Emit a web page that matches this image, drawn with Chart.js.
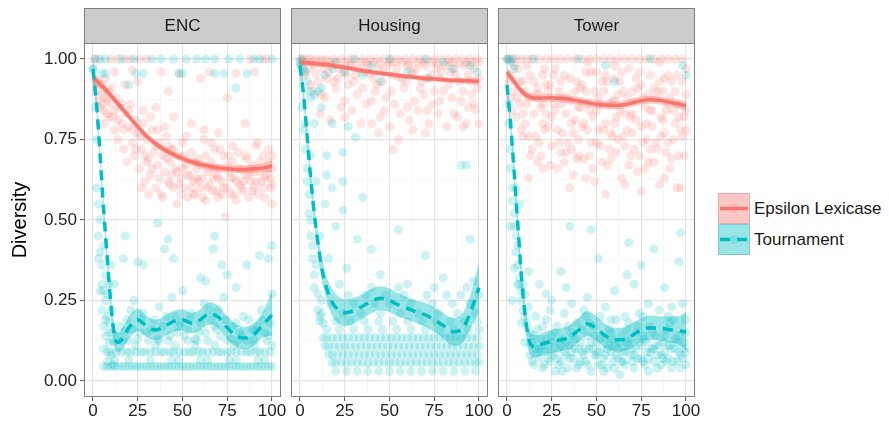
<!DOCTYPE html>
<html>
<head>
<meta charset="utf-8">
<script src="https://cdn.jsdelivr.net/npm/chart.js@4.4.1/dist/chart.umd.min.js"></script>
<style>
  body { margin: 0; background: #fff; width: 889px; height: 422px; overflow: hidden; position: relative;
         font-family: "Liberation Sans", Arial, sans-serif; }
  canvas { position: absolute; top: 0; }
  .key { position: absolute; left: 718px; }
  .lab { position: absolute; left: 754px; font-size: 17px; color: #1a1a1a; line-height: 20px; }
</style>
</head>
<body>
<canvas id="encChart" width="300" height="422" style="left:0px"></canvas>
<canvas id="housingChart" width="223" height="422" style="left:283px"></canvas>
<canvas id="towerChart" width="223" height="422" style="left:490px"></canvas>

<svg class="key" style="top:193px" width="32" height="31">
  <rect x="0.5" y="0.5" width="31" height="30" fill="rgba(248,118,109,0.4)" stroke="rgba(200,120,115,0.5)"/>
  <circle cx="16" cy="15.5" r="4.5" fill="rgba(248,118,109,0.2)"/>
  <line x1="2" x2="30" y1="15.5" y2="15.5" stroke="#F8766D" stroke-width="3.5"/>
</svg>
<svg class="key" style="top:224px" width="32" height="31">
  <rect x="0.5" y="0.5" width="31" height="30" fill="rgba(0,191,196,0.4)" stroke="rgba(60,160,165,0.5)"/>
  <circle cx="16" cy="15.5" r="4.5" fill="rgba(0,191,196,0.2)"/>
  <line x1="2" x2="30" y1="15.5" y2="15.5" stroke="#00BFC4" stroke-width="3.5" stroke-dasharray="10 7"/>
</svg>
<div class="lab" style="top:199px">Epsilon Lexicase</div>
<div class="lab" style="top:230px">Tournament</div>

<script>
// Axis ticks (minor ticks get a grid line but no label)
const xTicks = [0, 12.5, 25, 37.5, 50, 62.5, 75, 87.5, 100];
const xMajor = [0, 25, 50, 75, 100];
const yTicks = [0, 0.125, 0.25, 0.375, 0.5, 0.625, 0.75, 0.875, 1];
const yMajor = [0, 0.25, 0.5, 0.75, 1];

const panels = ['ENC', 'Housing', 'Tower'];
const seriesNames = ['Epsilon Lexicase', 'Tournament'];

// x positions of the smoothed fits
const smoothX = [0, 2, 4, 6, 8, 10, 12, 14, 17, 20, 25, 30, 35, 40, 45, 50, 55, 60, 65, 70, 75, 80, 85, 90, 95, 100];

// ---- ENC ----
const encEpsPts = [[1,1],[3,1],[10,1],[14,1],[18,1],[21,1],[26,1],[30,1],[95,1],[97,1],[88,1],
  [12,0.96],[22,0.965],[38,0.96],[48,0.955],[65,0.96],[80,0.955],[90,0.96],
  [3,0.93],[5,0.92],[7,0.94],[10,0.91],[18,0.92],[25,0.93],[42,0.9],[60,0.94],[75,0.88],
  [1,0.93],[2,0.9],[3,0.87],[4,0.85],[5,0.89],[6,0.84],[7,0.88],[8,0.83],[9,0.9],[10,0.86],
  [11,0.82],[12,0.78],[13,0.88],[14,0.75],[15,0.85],[16,0.8],[17,0.72],[18,0.83],[19,0.68],[20,0.79],
  [21,0.86],[22,0.74],[23,0.7],[24,0.81],[25,0.77],[26,0.66],[27,0.72],[28,0.8],[29,0.62],[30,0.75],
  [31,0.69],[32,0.64],[33,0.78],[34,0.71],[35,0.6],[36,0.67],[37,0.74],[38,0.58],[39,0.7],[40,0.65],
  [41,0.76],[42,0.62],[43,0.68],[44,0.72],[45,0.6],[46,0.66],[47,0.55],[48,0.7],[49,0.63],[50,0.74],
  [51,0.6],[52,0.67],[53,0.57],[54,0.64],[55,0.71],[56,0.62],[57,0.58],[58,0.66],[59,0.69],[60,0.6],
  [61,0.63],[62,0.75],[63,0.56],[64,0.65],[65,0.61],[66,0.68],[67,0.59],[68,0.72],[69,0.64],[70,0.57],
  [71,0.66],[72,0.62],[73,0.7],[74,0.51],[75,0.6],[76,0.65],[77,0.58],[78,0.68],[79,0.63],[80,0.56],
  [81,0.71],[82,0.61],[83,0.66],[84,0.59],[85,0.64],[86,0.69],[87,0.57],[88,0.62],[89,0.67],[90,0.6],
  [91,0.73],[92,0.58],[93,0.65],[94,0.62],[95,0.7],[96,0.57],[97,0.64],[98,0.68],[99,0.6],[100,0.55],
  [55,0.8],[62,0.78],[70,0.77],[85,0.8],[45,0.82],[35,0.85],[28,0.84],[40,0.79],[52,0.76],[66,0.74],
  [78,0.73],[92,0.74],[98,0.72],[30,0.68],[44,0.64],[56,0.58],[64,0.6],[72,0.58],[84,0.62],[96,0.63],
  [48,0.61],[58,0.63],[68,0.66],[88,0.66],[76,0.7],[100,0.66],[100,0.61],[20,0.84],[16,0.86],[8,0.87],[6,0.8],
  [27,0.6],[29,0.7],[31,0.58],[33,0.66],[35,0.73],[37,0.63],[39,0.57],[41,0.69],[43,0.61],[45,0.72],
  [47,0.65],[49,0.58],[51,0.7],[53,0.64],[55,0.6],[57,0.68],[59,0.62],[61,0.57],[63,0.7],[65,0.66],
  [67,0.63],[69,0.59],[71,0.72],[73,0.6],[75,0.67],[77,0.63],[79,0.58],[81,0.66],[83,0.6],[85,0.7],
  [87,0.64],[89,0.59],[91,0.62],[93,0.68],[95,0.6],[97,0.66],[99,0.63],[26,0.76],[32,0.82],[36,0.78],
  [42,0.73],[50,0.66],[60,0.67],[70,0.63],[80,0.62],[90,0.65],[100,0.7],[14,0.81],[17,0.78],[22,0.78],
  [24,0.72],[12,0.84],[9,0.82],[5,0.86]];
const encTourPts = [[0,0.97],[0,0.97],[1,1],[4,1],[7,1],[16,1],[23,1],[33,1],[38,1],[45,1],[52,1],[58,1],
  [63,1],[68,1],[76,1],[82,1],[90,1],[93,1],[100,1],
  [5,0.955],[7,0.955],[24,0.955],[28,0.955],[48,0.955],[50,0.955],[68,0.955],[73,0.955],[86,0.955],[20,0.92],[80,0.91],
  [1,0.85],[2,0.75],[2,0.6],[3,0.55],[3,0.45],[4,0.4],[4,0.5],[5,0.3],[5,0.36],[6,0.28],[6,0.42],[7,0.25],
  [7,0.33],[8,0.2],[8,0.27],[9,0.18],[10,0.22],[10,0.36],[11,0.15],[12,0.3],[12,0.12],[3,0.38],[5,0.22],
  [6,0.1],[7,0.14],[8,0.06],[9,0.12],[10,0.08],[11,0.05],[7,0.19],[9,0.3],[4,0.28],[6,0.17],
  [17,0.38],[18,0.45],[25,0.37],[28,0.36],[36,0.49],[40,0.41],[42,0.44],[45,0.38],[50,0.28],[60,0.32],
  [63,0.31],[67,0.41],[68,0.45],[72,0.36],[75,0.33],[80,0.29],[86,0.36],[93,0.39],[98,0.38],[100,0.42],
  [6,0.045],[10,0.045],[14,0.045],[18,0.045],[22,0.045],[26,0.045],[30,0.045],[34,0.045],[38,0.045],
  [42,0.045],[46,0.045],[50,0.045],[54,0.045],[58,0.045],[62,0.045],[66,0.045],[70,0.045],[74,0.045],
  [78,0.045],[82,0.045],[86,0.045],[90,0.045],[94,0.045],[98,0.045],
  [8,0.045],[12,0.045],[16,0.045],[20,0.045],[24,0.045],[28,0.045],[32,0.045],[36,0.045],[40,0.045],
  [44,0.045],[48,0.045],[52,0.045],[56,0.045],[60,0.045],[64,0.045],[68,0.045],[72,0.045],[76,0.045],
  [80,0.045],[84,0.045],[88,0.045],[92,0.045],[96,0.045],[100,0.045],
  [8,0.09],[13,0.09],[19,0.09],[24,0.09],[29,0.09],[35,0.09],[40,0.09],[45,0.09],[51,0.09],[56,0.09],
  [61,0.09],[67,0.09],[72,0.09],[77,0.09],[83,0.09],[88,0.09],[93,0.09],[99,0.09],
  [10,0.09],[16,0.09],[21,0.09],[27,0.09],[32,0.09],[38,0.09],[43,0.09],[48,0.09],[54,0.09],[59,0.09],
  [64,0.09],[70,0.09],[75,0.09],[80,0.09],[86,0.09],[91,0.09],[96,0.09],
  [12,0.065],[20,0.065],[32,0.065],[44,0.065],[48,0.065],[60,0.065],[64,0.065],[76,0.065],[80,0.065],[92,0.065],[96,0.065],
  [11,0.125],[16,0.125],[20,0.125],[31,0.125],[37,0.125],[42,0.125],[53,0.125],[58,0.125],[64,0.125],
  [75,0.125],[81,0.125],[86,0.125],[97,0.125],
  [24,0.11],[35,0.11],[46,0.11],[57,0.11],[68,0.11],[79,0.11],[90,0.11],
  [15,0.17],[21,0.22],[23,0.25],[27,0.19],[33,0.16],[37,0.23],[41,0.2],[44,0.26],[49,0.18],[55,0.21],
  [59,0.15],[62,0.24],[66,0.19],[70,0.22],[73,0.26],[78,0.17],[84,0.2],[89,0.16],[94,0.22],[99,0.18],
  [100,0.27],[9,0.15],[18,0.155],[26,0.15],[47,0.15],[53,0.16],[69,0.16],[82,0.15],[91,0.155],[96,0.15],
  [14,0.14],[19,0.19],[22,0.16],[25,0.13],[28,0.21],[30,0.15],[34,0.19],[36,0.13],[39,0.17],[43,0.14],
  [46,0.2],[48,0.17],[51,0.14],[54,0.19],[57,0.13],[60,0.18],[63,0.15],[65,0.22],[68,0.17],[71,0.14],
  [74,0.19],[77,0.13],[80,0.18],[83,0.14],[87,0.19],[90,0.13],[92,0.17],[95,0.19],[98,0.14],[100,0.11]];
const encEpsFit = [0.94,0.932,0.922,0.911,0.899,0.887,0.874,0.861,0.842,0.822,0.79,0.76,0.737,0.718,0.703,0.691,0.681,0.673,0.667,0.662,0.659,0.657,0.657,0.659,0.662,0.667];
const encEpsLo  = [0.92,0.915,0.907,0.898,0.887,0.876,0.863,0.85,0.831,0.811,0.779,0.749,0.726,0.707,0.692,0.68,0.67,0.662,0.656,0.651,0.648,0.646,0.645,0.646,0.648,0.649];
const encEpsHi  = [0.96,0.949,0.937,0.924,0.911,0.898,0.885,0.872,0.853,0.833,0.801,0.771,0.748,0.729,0.714,0.702,0.692,0.684,0.678,0.673,0.67,0.668,0.669,0.672,0.676,0.685];
const encTourFit = [0.97,0.86,0.7,0.53,0.38,0.24,0.14,0.12,0.135,0.165,0.19,0.17,0.158,0.17,0.185,0.19,0.18,0.19,0.21,0.198,0.165,0.14,0.133,0.145,0.175,0.205];
const encTourLo  = [0.93,0.83,0.67,0.5,0.35,0.21,0.105,0.09,0.1,0.13,0.155,0.138,0.126,0.138,0.152,0.157,0.148,0.157,0.175,0.163,0.13,0.105,0.098,0.11,0.135,0.14];
const encTourHi  = [1.01,0.89,0.73,0.56,0.41,0.27,0.175,0.15,0.17,0.2,0.225,0.202,0.19,0.202,0.218,0.223,0.212,0.223,0.245,0.233,0.2,0.175,0.168,0.18,0.215,0.28];

// ---- Housing ----
const houEpsPts = [[0,1],[2,1],[4,1],[6,1],[9,1],[12,1],[15,1],[19,1],[23,1],[27,1],[31,1],[35,1],[39,1],[43,1],
  [47,1],[51,1],[55,1],[59,1],[63,1],[67,1],[71,1],[75,1],[79,1],[83,1],[87,1],[91,1],[95,1],[99,1],
  [3,0.99],[11,0.99],[17,0.99],[25,0.99],[34,0.99],[41,0.99],[50,0.99],[57,0.99],[66,0.99],[74,0.99],[85,0.99],[93,0.99],[100,0.99],
  [1,0.98],[5,0.97],[8,0.98],[13,0.97],[18,0.98],[22,0.97],[28,0.98],[33,0.97],[38,0.98],[44,0.97],
  [49,0.98],[54,0.97],[60,0.98],[65,0.97],[70,0.98],[76,0.97],[81,0.98],[86,0.97],[92,0.98],[97,0.97],
  [3,0.95],[10,0.93],[16,0.96],[21,0.94],[26,0.95],[30,0.93],[36,0.96],[41,0.94],[46,0.93],[52,0.95],
  [57,0.94],[62,0.96],[68,0.93],[73,0.95],[78,0.94],[84,0.96],[89,0.93],[94,0.95],[100,0.94],
  [7,0.9],[14,0.88],[20,0.91],[25,0.87],[32,0.89],[37,0.86],[42,0.9],[48,0.88],[53,0.86],[58,0.91],
  [64,0.87],[69,0.89],[74,0.86],[80,0.9],[85,0.88],[90,0.87],[96,0.89],
  [11,0.83],[17,0.81],[29,0.84],[34,0.8],[45,0.82],[50,0.79],[56,0.83],[61,0.81],[66,0.84],[72,0.8],
  [77,0.83],[82,0.79],[88,0.82],[93,0.8],[98,0.84],
  [40,0.8],[52,0.72],[55,0.75],[44,0.77],[91,0.79],[63,0.78],[70,0.77],[25,0.82],
  [1,0.995],[7,0.99],[14,0.985],[20,0.99],[29,0.985],[37,0.99],[45,0.985],[53,0.99],[61,0.985],[69,0.99],
  [77,0.985],[83,0.99],[89,0.985],[96,0.99],
  [2,0.96],[9,0.955],[15,0.94],[24,0.96],[31,0.95],[39,0.955],[47,0.96],[55,0.945],[63,0.955],[71,0.94],
  [79,0.96],[87,0.95],[95,0.93],[99,0.91],
  [6,0.92],[19,0.93],[27,0.92],[35,0.91],[43,0.92],[51,0.9],[59,0.93],[67,0.91],[75,0.9],[83,0.92],[91,0.9],[97,0.86],
  [12,0.89],[23,0.85],[40,0.87],[47,0.84],[60,0.85],[71,0.84],[78,0.87],[86,0.83],[94,0.85],[100,0.8]];
const houTourPts = [[0,0.98],[0,0.99],[1,1],[2,0.97],[3,0.96],[4,0.93],[5,0.9],[6,0.88],[8,0.89],[10,0.9],
  [12,0.91],[14,0.95],[18,0.97],[25,0.96],[35,0.95],[45,0.93],[60,0.96],[72,0.94],[85,0.97],[95,0.98],
  [99,0.96],[30,1],[50,1],[70,1],[40,0.98],[80,0.99],[20,0.99],
  [1,0.85],[2,0.78],[3,0.72],[4,0.62],[4,0.66],[5,0.58],[5,0.52],[6,0.5],[6,0.45],[7,0.42],[7,0.38],
  [8,0.33],[8,0.29],[9,0.36],[10,0.27],[10,0.22],[11,0.2],[12,0.25],[13,0.18],[8,0.8],[12,0.85],[3,0.8],[6,0.7],[9,0.62],
  [18,0.8],[27,0.79],[31,0.756],[24,0.71],[15,0.7],[18,0.6],[24,0.62],[35,0.57],[24,0.53],[32,0.44],
  [40,0.41],[70,0.39],[55,0.47],[95,0.44],[90,0.67],[93,0.67],[14,0.55],[20,0.48],[11,0.45],[16,0.38],
  [26,0.35],[22,0.3],[45,0.33],[60,0.3],[80,0.32],[97,0.31],[15,0.64],
  [20,0.03],[26,0.03],[32,0.03],[38,0.03],[44,0.03],[50,0.03],[56,0.03],[62,0.03],[68,0.03],[74,0.03],[80,0.03],[86,0.03],[92,0.03],[98,0.03],
  [18,0.057],[23,0.057],[29,0.057],[35,0.057],[41,0.057],[47,0.057],[53,0.057],[59,0.057],[65,0.057],[71,0.057],[77,0.057],[83,0.057],[89,0.057],[95,0.057],[100,0.057],
  [20,0.057],[26,0.057],[32,0.057],[38,0.057],[44,0.057],[50,0.057],[56,0.057],[62,0.057],[68,0.057],[74,0.057],[80,0.057],[86,0.057],[92,0.057],[98,0.057],
  [16,0.082],[21,0.082],[27,0.082],[33,0.082],[39,0.082],[45,0.082],[51,0.082],[57,0.082],[63,0.082],[69,0.082],[75,0.082],[81,0.082],[87,0.082],[93,0.082],[99,0.082],
  [18,0.082],[24,0.082],[30,0.082],[36,0.082],[42,0.082],[48,0.082],[54,0.082],[60,0.082],[66,0.082],[72,0.082],[78,0.082],[84,0.082],[90,0.082],[96,0.082],
  [14,0.108],[19,0.108],[25,0.108],[31,0.108],[37,0.108],[43,0.108],[49,0.108],[55,0.108],[61,0.108],[67,0.108],[73,0.108],[79,0.108],[85,0.108],[91,0.108],[97,0.108],
  [16,0.108],[22,0.108],[28,0.108],[34,0.108],[40,0.108],[46,0.108],[52,0.108],[58,0.108],[64,0.108],[70,0.108],[76,0.108],[82,0.108],[88,0.108],[94,0.108],[100,0.108],
  [13,0.134],[18,0.134],[24,0.134],[30,0.134],[36,0.134],[42,0.134],[48,0.134],[54,0.134],[60,0.134],[66,0.134],[72,0.134],[78,0.134],[84,0.134],[90,0.134],[96,0.134],
  [15,0.134],[21,0.134],[27,0.134],[33,0.134],[39,0.134],[45,0.134],[51,0.134],[57,0.134],[63,0.134],[69,0.134],[75,0.134],[81,0.134],[87,0.134],[93,0.134],[99,0.134],
  [15,0.16],[22,0.16],[30,0.16],[38,0.16],[46,0.16],[54,0.16],[62,0.16],[70,0.16],[78,0.16],[86,0.16],[94,0.16],[100,0.16],
  [11,0.185],[20,0.185],[28,0.185],[36,0.185],[44,0.185],[52,0.185],[60,0.185],[68,0.185],[76,0.185],[84,0.185],[92,0.185],[99,0.185],
  [12,0.21],[24,0.21],[34,0.21],[45,0.21],[56,0.21],[66,0.21],[77,0.21],[88,0.21],[98,0.21],
  [17,0.24],[30,0.24],[42,0.24],[50,0.24],[62,0.24],[74,0.24],[85,0.24],[95,0.24],
  [27,0.267],[37,0.267],[48,0.267],[58,0.267],[71,0.267],[82,0.267],[90,0.267],[100,0.267],
  [40,0.29],[55,0.29],[75,0.29],[93,0.29]];
const houEpsFit = [0.99,0.989,0.988,0.987,0.986,0.985,0.984,0.983,0.981,0.978,0.974,0.969,0.964,0.96,0.956,0.953,0.949,0.946,0.943,0.94,0.938,0.936,0.934,0.933,0.932,0.931];
const houEpsLo  = [0.978,0.98,0.98,0.979,0.978,0.977,0.976,0.975,0.973,0.97,0.966,0.961,0.956,0.952,0.948,0.945,0.941,0.938,0.935,0.932,0.93,0.928,0.926,0.924,0.922,0.919];
const houEpsHi  = [1.002,0.998,0.996,0.995,0.994,0.993,0.992,0.991,0.989,0.986,0.982,0.977,0.972,0.968,0.964,0.961,0.957,0.954,0.951,0.948,0.946,0.944,0.942,0.942,0.942,0.943];
const houTourFit = [0.98,0.89,0.76,0.63,0.52,0.43,0.355,0.305,0.255,0.228,0.212,0.218,0.232,0.248,0.257,0.25,0.236,0.225,0.215,0.205,0.19,0.172,0.153,0.158,0.21,0.29];
const houTourLo  = [0.94,0.86,0.73,0.6,0.49,0.4,0.32,0.27,0.215,0.185,0.17,0.178,0.194,0.21,0.22,0.213,0.2,0.19,0.18,0.168,0.152,0.133,0.11,0.115,0.16,0.215];
const houTourHi  = [1.02,0.92,0.79,0.66,0.55,0.46,0.39,0.34,0.295,0.27,0.254,0.258,0.27,0.286,0.294,0.287,0.272,0.26,0.25,0.242,0.228,0.211,0.196,0.205,0.265,0.37];

// ---- Tower ----
const towEpsPts = [[0,1],[1,1],[3,1],[5,1],[8,1],[11,1],[14,1],[18,1],[22,1],[26,1],[30,1],[34,1],[38,1],[42,1],
  [46,1],[50,1],[54,1],[58,1],[62,1],[66,1],[70,1],[74,1],[78,1],[82,1],[86,1],[90,1],[94,1],[98,1],
  [2,0.95],[4,0.9],[6,0.97],[7,0.86],[9,0.93],[10,0.8],[12,0.88],[13,0.95],[15,0.83],[16,0.76],[17,0.91],
  [19,0.7],[20,0.86],[21,0.97],[23,0.79],[24,0.92],[25,0.73],[27,0.84],[28,0.66],[29,0.9],[31,0.77],
  [32,0.95],[33,0.71],[35,0.87],[36,0.8],[37,0.64],[39,0.93],[40,0.75],[41,0.85],[43,0.69],[44,0.9],
  [45,0.78],[47,0.96],[48,0.82],[49,0.62],[51,0.88],[52,0.73],[53,0.93],[55,0.8],[56,0.67],[57,0.86],
  [59,0.76],[60,0.94],[61,0.71],[63,0.84],[64,0.63],[65,0.9],[67,0.78],[68,0.97],[69,0.7],[71,0.87],
  [72,0.81],[73,0.65],[75,0.92],[76,0.74],[77,0.85],[79,0.68],[80,0.95],[81,0.79],[83,0.88],[84,0.72],
  [85,0.61],[87,0.9],[88,0.77],[89,0.84],[91,0.66],[92,0.93],[93,0.75],[95,0.86],[96,0.7],[97,0.6],
  [99,0.82],[100,0.89],
  [3,0.84],[8,0.78],[14,0.72],[18,0.89],[22,0.83],[26,0.95],[30,0.86],[34,0.74],[38,0.81],[42,0.92],
  [46,0.7],[50,0.84],[54,0.9],[58,0.77],[62,0.89],[66,0.73],[70,0.83],[74,0.96],[78,0.8],[82,0.91],
  [86,0.76],[90,0.86],[94,0.8],[98,0.93],[11,0.98],[45,0.99],[60,0.98],[85,0.99],
  [12,0.63],[35,0.6],[55,0.58],[75,0.59],[95,0.6],[20,0.66],[44,0.63],[66,0.61],[88,0.63],
  [1,0.93],[4,0.98],[6,0.88],[9,0.83],[12,0.76],[15,0.93],[17,0.68],[19,0.85],[21,0.78],[23,0.9],
  [25,0.82],[27,0.97],[29,0.74],[31,0.88],[33,0.83],[35,0.94],[37,0.77],[39,0.69],[41,0.91],[43,0.8],
  [45,0.86],[47,0.74],[49,0.9],[51,0.78],[53,0.68],[55,0.95],[57,0.72],[59,0.87],[61,0.82],[63,0.93],
  [65,0.76],[67,0.88],[69,0.82],[71,0.72],[73,0.91],[75,0.79],[77,0.66],[79,0.89],[81,0.84],[83,0.74],
  [85,0.93],[87,0.81],[89,0.71],[91,0.88],[93,0.84],[95,0.95],[97,0.78],[99,0.7],[100,0.97],
  [10,0.9],[20,0.95],[30,0.71],[40,0.85],[50,0.96],[60,0.8],[70,0.9],[80,0.72],[90,0.95],[100,0.78],
  [2,0.88],[5,0.82],[7,0.93],[9,0.76],[11,0.86],[13,0.7],[16,0.89],[18,0.74],[20,0.8],[22,0.92],
  [24,0.67],[26,0.86],[28,0.78],[30,0.93],[32,0.68],[34,0.88],[36,0.72],[38,0.9],[40,0.7],[42,0.79],
  [44,0.96],[46,0.84],[48,0.66],[50,0.74],[52,0.86],[54,0.78],[56,0.93],[58,0.69],[60,0.87],[62,0.75],
  [64,0.96],[66,0.83],[68,0.67],[70,0.77],[72,0.94],[74,0.7],[76,0.88],[78,0.75],[80,0.84],[82,0.68],
  [84,0.9],[86,0.82],[88,0.94],[90,0.74],[92,0.69],[94,0.9],[96,0.82],[98,0.76],[100,0.84]];
const towTourPts = [[0,1],[1,1],[2,0.99],[3,1],[4,0.97],[15,1],[40,1],[55,0.98],[80,1],[98,0.98],[100,0.95],[60,0.93],
  [1,0.86],[1,0.8],[2,0.72],[2,0.66],[3,0.6],[3,0.56],[4,0.52],[4,0.48],[5,0.45],[5,0.4],[6,0.36],[6,0.42],
  [7,0.32],[7,0.3],[8,0.28],[8,0.25],[9,0.22],[9,0.3],[10,0.2],[10,0.27],[11,0.18],[12,0.23],[13,0.15],
  [2,0.48],[4,0.35],[6,0.3],[8,0.18],[3,0.25],[5,0.6],[7,0.55],[10,0.12],[12,0.34],
  [18,0.3],[22,0.27],[25,0.25],[30,0.34],[33,0.29],[35,0.48],[45,0.26],[47,0.47],[51,0.38],[60,0.28],
  [67,0.33],[68,0.43],[71,0.3],[75,0.36],[82,0.41],[88,0.29],[96,0.37],[97,0.46],
  [13,0.08],[14,0.12],[15,0.05],[16,0.1],[17,0.16],[18,0.07],[19,0.13],[20,0.04],[21,0.09],[22,0.19],
  [23,0.11],[24,0.06],[25,0.14],[26,0.08],[27,0.03],[28,0.17],[29,0.1],[30,0.06],[31,0.13],[32,0.21],
  [33,0.08],[34,0.04],[35,0.11],[36,0.15],[37,0.07],[38,0.1],[39,0.18],[40,0.05],[41,0.12],[42,0.09],
  [43,0.22],[44,0.06],[45,0.14],[46,0.1],[47,0.03],[48,0.17],[49,0.08],[50,0.12],[51,0.05],[52,0.2],
  [53,0.1],[54,0.07],[55,0.13],[56,0.04],[57,0.16],[58,0.09],[59,0.06],[60,0.11],[61,0.19],[62,0.07],
  [63,0.02],[64,0.14],[65,0.09],[66,0.05],[67,0.12],[68,0.18],[69,0.08],[70,0.1],[71,0.04],[72,0.15],
  [73,0.07],[74,0.21],[75,0.11],[76,0.06],[77,0.13],[78,0.09],[79,0.03],[80,0.17],[81,0.1],[82,0.06],
  [83,0.14],[84,0.08],[85,0.22],[86,0.05],[87,0.12],[88,0.09],[89,0.16],[90,0.07],[91,0.11],[92,0.04],
  [93,0.19],[94,0.1],[95,0.06],[96,0.14],[97,0.08],[98,0.24],[99,0.12],[100,0.09],
  [14,0.06],[17,0.09],[20,0.11],[23,0.07],[26,0.12],[29,0.05],[32,0.09],[35,0.07],[38,0.13],[41,0.06],
  [44,0.1],[47,0.12],[50,0.08],[53,0.05],[56,0.1],[59,0.13],[62,0.1],[65,0.06],[68,0.11],[71,0.08],
  [74,0.12],[77,0.05],[80,0.09],[83,0.11],[86,0.08],[89,0.06],[92,0.1],[95,0.12],[98,0.07],[100,0.15],
  [16,0.2],[24,0.22],[36,0.24],[55,0.23],[66,0.2],[79,0.24],[92,0.23],
  [13,0.11],[15,0.14],[18,0.1],[21,0.05],[22,0.13],[25,0.09],[27,0.15],[28,0.07],[30,0.11],[31,0.03],
  [33,0.12],[34,0.17],[36,0.09],[37,0.14],[39,0.04],[40,0.1],[42,0.16],[43,0.08],[45,0.05],[46,0.18],
  [48,0.1],[49,0.14],[51,0.09],[52,0.13],[54,0.03],[55,0.08],[57,0.11],[58,0.15],[60,0.04],[61,0.08],
  [63,0.12],[64,0.06],[66,0.09],[67,0.16],[69,0.13],[70,0.06],[72,0.1],[73,0.17],[75,0.07],[76,0.14],
  [78,0.12],[79,0.07],[81,0.15],[82,0.1],[84,0.04],[85,0.11],[87,0.07],[88,0.14],[90,0.11],[91,0.18],
  [93,0.06],[94,0.13],[96,0.09],[97,0.04],[99,0.1],[100,0.19],[20,0.17],[44,0.2],[58,0.19],[76,0.2],[90,0.2],[100,0.05]];
const towEpsFit = [0.96,0.945,0.93,0.915,0.901,0.891,0.884,0.88,0.878,0.879,0.88,0.878,0.875,0.87,0.865,0.86,0.857,0.856,0.858,0.864,0.871,0.874,0.872,0.867,0.861,0.855];
const towEpsLo  = [0.942,0.931,0.917,0.903,0.889,0.879,0.872,0.868,0.866,0.867,0.868,0.866,0.863,0.858,0.853,0.848,0.845,0.844,0.846,0.852,0.859,0.862,0.86,0.855,0.848,0.838];
const towEpsHi  = [0.978,0.959,0.943,0.927,0.913,0.903,0.896,0.892,0.89,0.891,0.892,0.89,0.887,0.882,0.877,0.872,0.869,0.868,0.87,0.876,0.883,0.886,0.884,0.879,0.874,0.872];
const towTourFit = [0.92,0.8,0.65,0.49,0.33,0.21,0.135,0.108,0.108,0.115,0.123,0.128,0.136,0.158,0.178,0.162,0.14,0.128,0.128,0.142,0.158,0.165,0.163,0.16,0.156,0.152];
const towTourLo  = [0.88,0.77,0.62,0.46,0.3,0.18,0.1,0.073,0.073,0.08,0.087,0.092,0.099,0.12,0.14,0.125,0.103,0.091,0.091,0.105,0.121,0.128,0.125,0.12,0.114,0.096];
const towTourHi  = [0.96,0.83,0.68,0.52,0.36,0.24,0.17,0.144,0.143,0.15,0.159,0.164,0.173,0.196,0.217,0.2,0.177,0.165,0.165,0.18,0.195,0.203,0.201,0.2,0.2,0.215];

const RED = '#F8766D';
const CYAN = '#00BFC4';

Chart.defaults.font.family = '"Liberation Sans", Arial, sans-serif';

// strip label on top + grey panel border
const panelFrame = {
  id: 'panelFrame',
  afterDraw(chart, args, opts) {
    const { ctx, chartArea: a } = chart;
    ctx.save();
    ctx.lineWidth = 1;
    ctx.strokeStyle = '#7F7F7F';
    ctx.fillStyle = '#CCCCCC';
    ctx.fillRect(a.left, 8.5, a.width, 35);
    ctx.strokeRect(a.left + 0.5, 8.5, a.width - 1, 35);
    ctx.strokeRect(a.left + 0.5, a.top + 0.5, a.width - 1, a.height - 1);
    ctx.fillStyle = '#1A1A1A';
    ctx.font = '17px "Liberation Sans", Arial, sans-serif';
    ctx.textAlign = 'center';
    ctx.textBaseline = 'middle';
    ctx.fillText(opts.label, (a.left + a.right) / 2, 26.5);
    ctx.restore();
  }
};

function isMajor(c, major) {
  return c.tick && major.includes(c.tick.value);
}

function gridFor(major, drawTicks) {
  return {
    drawTicks: drawTicks,
    tickLength: 4,
    tickWidth: 1,
    color: c => isMajor(c, major) ? '#E4E4E4' : '#F3F3F3',
    lineWidth: c => isMajor(c, major) ? 1.2 : 0.7,
    tickColor: c => isMajor(c, major) ? '#555' : 'rgba(0,0,0,0)'
  };
}

const toXY = pts => pts.map(p => ({ x: p[0], y: p[1] }));
const fitXY = ys => smoothX.map((x, i) => ({ x: x, y: ys[i] }));

function lineSet(ys, color, dash) {
  return { data: fitXY(ys), borderColor: color, borderWidth: 3.5, borderDash: dash,
           pointRadius: 0, fill: false, cubicInterpolationMode: 'monotone' };
}
function bandSet(ys, fillColor, fill) {
  return { data: fitXY(ys), borderWidth: 0, borderColor: 'rgba(0,0,0,0)', backgroundColor: fillColor,
           pointRadius: 0, fill: fill, cubicInterpolationMode: 'monotone' };
}
function pointSet(pts, color) {
  return { data: toXY(pts), showLine: false, pointRadius: 4.5, pointBorderWidth: 0,
           pointBackgroundColor: color, pointHoverRadius: 0 };
}

function makePanel(canvasId, label, d, first) {
  // index 0 is painted last, so smooth lines end up on top of the points
  const datasets = [
    lineSet(d.tourFit, CYAN, [10, 7]),
    bandSet(d.tourHi, 'rgba(0,191,196,0.4)', '+1'),
    bandSet(d.tourLo, 'rgba(0,0,0,0)', false),
    lineSet(d.epsFit, RED, []),
    bandSet(d.epsHi, 'rgba(248,118,109,0.4)', '+1'),
    bandSet(d.epsLo, 'rgba(0,0,0,0)', false),
    pointSet(d.tourPts, 'rgba(0,191,196,0.2)'),
    pointSet(d.epsPts, 'rgba(248,118,109,0.2)')
  ];
  new Chart(document.getElementById(canvasId), {
    type: 'line',
    data: { datasets: datasets },
    plugins: [panelFrame],
    options: {
      responsive: false,
      animation: false,
      events: [],
      layout: { padding: { left: first ? 0 : 8, right: first ? 19 : 18, top: 43, bottom: 0 } },
      plugins: { legend: { display: false }, tooltip: { enabled: false }, panelFrame: { label: label } },
      scales: {
        x: {
          type: 'linear', min: -5, max: 105,
          afterBuildTicks: s => { s.ticks = xTicks.map(v => ({ value: v })); },
          afterFit: s => { s.height = 25; },
          border: { display: false },
          grid: gridFor(xMajor, true),
          ticks: { autoSkip: false, maxRotation: 0, padding: 0, color: '#222', font: { size: 17 },
                   callback: v => xMajor.includes(v) ? String(v) : '' }
        },
        y: {
          type: 'linear', min: -0.05, max: 1.05,
          afterBuildTicks: s => { s.ticks = yTicks.map(v => ({ value: v })); },
          afterFit: s => { s.width = first ? 84 : 0; },
          border: { display: false },
          grid: gridFor(yMajor, first),
          ticks: { display: first, autoSkip: false, padding: 3, color: '#222', font: { size: 17 },
                   callback: v => yMajor.includes(v) ? v.toFixed(2) : '' },
          title: { display: first, text: 'Diversity', color: '#000', font: { size: 20 },
                   padding: { top: 8, bottom: 0 } }
        }
      }
    }
  });
}

makePanel('encChart', panels[0], {
  epsPts: encEpsPts, tourPts: encTourPts,
  epsFit: encEpsFit, epsLo: encEpsLo, epsHi: encEpsHi,
  tourFit: encTourFit, tourLo: encTourLo, tourHi: encTourHi
}, true);
makePanel('housingChart', panels[1], {
  epsPts: houEpsPts, tourPts: houTourPts,
  epsFit: houEpsFit, epsLo: houEpsLo, epsHi: houEpsHi,
  tourFit: houTourFit, tourLo: houTourLo, tourHi: houTourHi
}, false);
makePanel('towerChart', panels[2], {
  epsPts: towEpsPts, tourPts: towTourPts,
  epsFit: towEpsFit, epsLo: towEpsLo, epsHi: towEpsHi,
  tourFit: towTourFit, tourLo: towTourLo, tourHi: towTourHi
}, false);
</script>
</body>
</html>
